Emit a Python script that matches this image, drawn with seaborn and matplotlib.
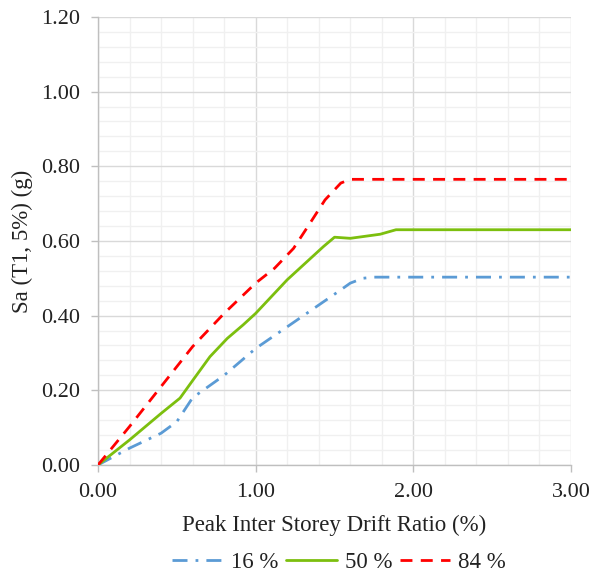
import matplotlib
matplotlib.use("Agg")
import matplotlib.pyplot as plt
import seaborn as sns
import pandas as pd
from matplotlib.ticker import MultipleLocator, FormatStrFormatter

# Fragility-style curves: spectral acceleration vs peak inter-storey drift
drift_16 = [0.00, 0.20, 0.40, 0.50, 0.60, 0.80, 1.00, 1.20, 1.43, 1.54, 1.60, 1.68, 1.75, 2.00, 3.00]
sa_16 = [0.000, 0.045, 0.085, 0.116, 0.180, 0.240, 0.312, 0.370, 0.437, 0.469, 0.487, 0.500, 0.503, 0.503, 0.503]

drift_50 = [0.00, 0.20, 0.40, 0.52, 0.60, 0.71, 0.82, 0.92, 1.00, 1.20, 1.43, 1.50, 1.60, 1.79, 1.89, 2.00, 3.00]
sa_50 = [0.000, 0.067, 0.138, 0.179, 0.226, 0.290, 0.339, 0.375, 0.406, 0.496, 0.585, 0.610, 0.607, 0.618, 0.630, 0.630, 0.630]

drift_84 = [0.00, 0.20, 0.40, 0.60, 0.80, 1.00, 1.12, 1.24, 1.33, 1.44, 1.54, 1.60, 2.00, 3.00]
sa_84 = [0.000, 0.103, 0.210, 0.317, 0.406, 0.487, 0.527, 0.580, 0.638, 0.710, 0.755, 0.765, 0.765, 0.765]

labels = ["16 %", "50 %", "84 %"]
colors = ["#5B9BD5", "#7CBF0E", "#FF0000"]

sns.set_theme(style="white")
plt.rcParams["font.family"] = ["Liberation Serif", "DejaVu Serif"]

fig = plt.figure(figsize=(5.93, 5.74), dpi=100)
ax = fig.add_axes([0.1653, 0.19, 0.7976, 0.7805])

series = [(drift_16, sa_16), (drift_50, sa_50), (drift_84, sa_84)]
styles = [(0, (5.4, 2.9, 1, 2.9)), "-", (0, (4.3, 3.0))]
for (xs, ys), lab, col, ls in zip(series, labels, colors, styles):
    df = pd.DataFrame({"drift": xs, "sa": ys})
    sns.lineplot(data=df, x="drift", y="sa", ax=ax, color=col, label=lab,
                 linewidth=2.0, linestyle=ls, zorder=3)

ax.set_xlim(0, 3.0)
ax.set_ylim(0, 1.2)
ax.xaxis.set_major_locator(MultipleLocator(1.0))
ax.xaxis.set_minor_locator(MultipleLocator(0.2))
ax.yaxis.set_major_locator(MultipleLocator(0.2))
ax.yaxis.set_minor_locator(MultipleLocator(0.04))
ax.xaxis.set_major_formatter(FormatStrFormatter("%.2f"))
ax.yaxis.set_major_formatter(FormatStrFormatter("%.2f"))

ax.grid(which="major", color="#D9D9D9", linewidth=1.0, zorder=0)
ax.grid(which="minor", color="#F0F0F0", linewidth=1.0, zorder=0)
ax.set_axisbelow(True)

for s in ["top", "right"]:
    ax.spines[s].set_visible(False)
for s in ["left", "bottom"]:
    ax.spines[s].set_color("#BFBFBF")
    ax.spines[s].set_linewidth(1.0)

ax.tick_params(axis="both", which="major", direction="out", length=5, width=1,
               color="#BFBFBF", labelsize=16, labelcolor="#222222",
               bottom=True, left=True)
ax.tick_params(axis="x", which="major", pad=8)
ax.tick_params(axis="y", which="major", pad=8)
ax.tick_params(axis="both", which="minor", length=0)

ax.set_xlabel("Peak Inter Storey Drift Ratio (%)", fontsize=16.5, color="#222222", labelpad=9)
ax.set_ylabel("Sa (T1, 5%) (g)", fontsize=16.5, color="#222222", labelpad=6)

leg = ax.legend(loc="center", bbox_to_anchor=(0.51, -0.217), ncol=3, frameon=False,
                fontsize=16.5, handlelength=2.2, columnspacing=0.35, handletextpad=0.35,
                labelcolor="#222222")

fig.savefig("out.png", dpi=100)
